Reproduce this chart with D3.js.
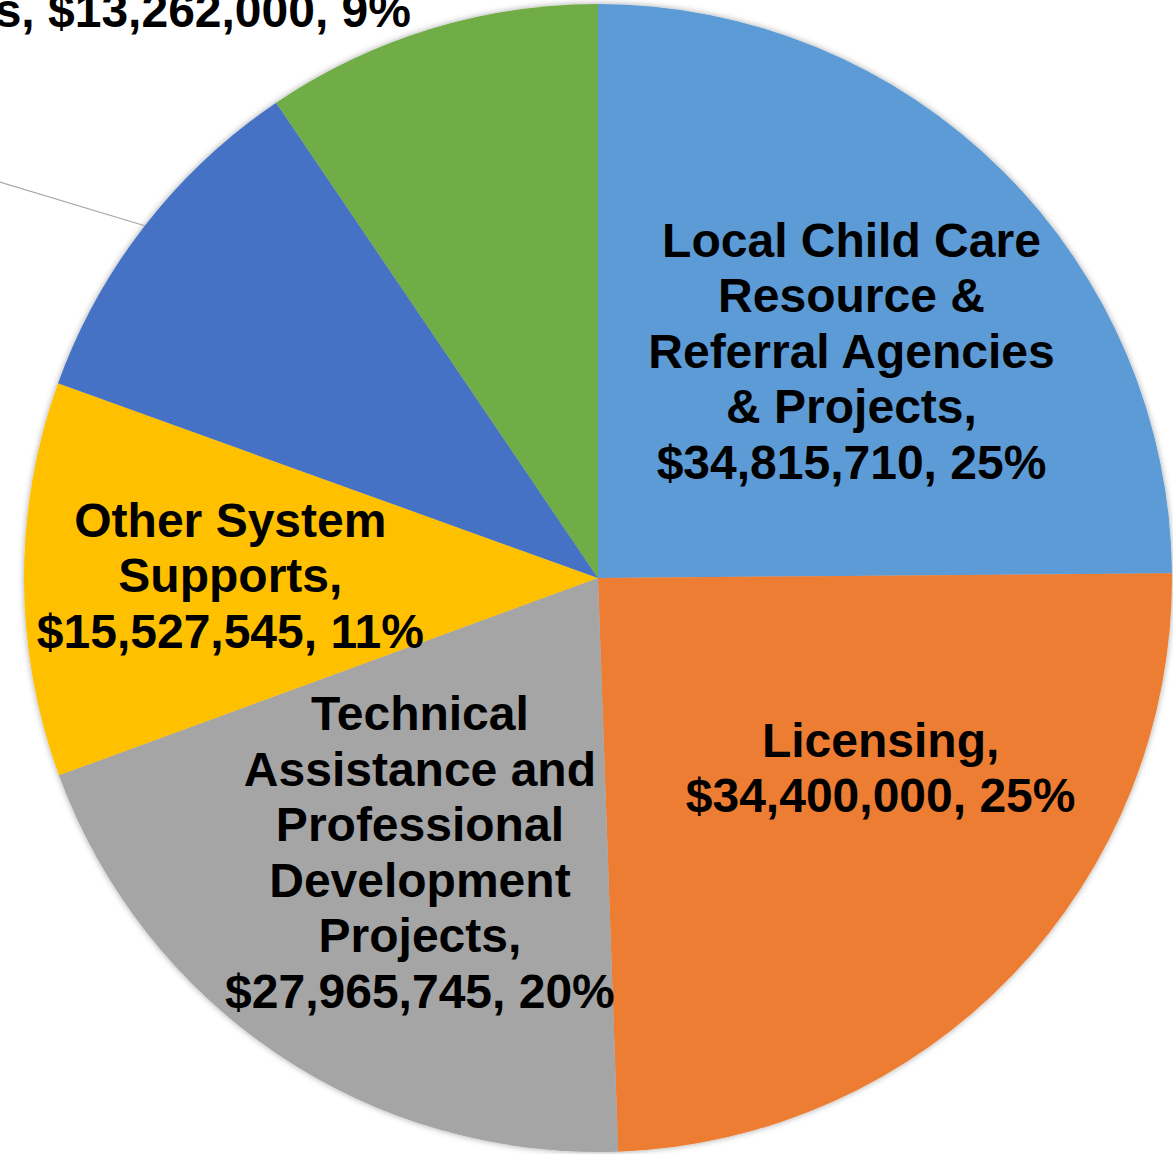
<!DOCTYPE html>
<html>
<head>
<meta charset="utf-8">
<script src="https://cdn.jsdelivr.net/npm/d3@7"></script>
<style>
  html, body { margin: 0; padding: 0; background: #fff; overflow: hidden; }
  text { font-family: "Liberation Sans", Arial, sans-serif; font-weight: bold; fill: #000; }
</style>
</head>
<body>
<svg id="chart" width="1173" height="1154"></svg>
<script>
// slices, clockwise from 12 o'clock
const categories = [
    'Local Child Care Resource & Referral Agencies & Projects',
    'Licensing',
    'Technical Assistance and Professional Development Projects',
    'Other System Supports',
    'Other Projects',
    'Quality Grants'
];
const amounts = [34815710, 34400000, 27965745, 15527545, 14029000, 13262000];
const percents = ['25%', '25%', '20%', '11%', '10%', '9%'];
const colors = ['#5b9bd5', '#ed7d31', '#a5a5a5', '#ffc000', '#4472c4', '#70ad47'];

// how each label is broken into lines (null = label sits outside the plot)
const labelLines = [
    ['Local Child Care', 'Resource &', 'Referral Agencies', '& Projects,', '$34,815,710, 25%'],
    ['Licensing,', '$34,400,000, 25%'],
    ['Technical', 'Assistance and', 'Professional', 'Development', 'Projects,', '$27,965,745, 20%'],
    ['Other System', 'Supports,', '$15,527,545, 11%'],
    null,
    null
];

const svg = d3.select('#chart');
const cx = 598, cy = 578, radius = 574;
const fontSize = 48, lineH = 55.5;

const defs = svg.append('defs');
defs.append('filter')
    .attr('id', 'soft')
    .attr('x', '-10%').attr('y', '-10%').attr('width', '120%').attr('height', '120%')
    .append('feDropShadow')
    .attr('dx', 0).attr('dy', 0)
    .attr('stdDeviation', 3)
    .attr('flood-color', '#000')
    .attr('flood-opacity', 0.35);

const data = categories.map((c, i) => ({name: c, amount: amounts[i], pct: percents[i], color: colors[i], lines: labelLines[i]}));

const pie = d3.pie().sort(null).value(d => d.amount);
const arcs = pie(data);
const arc = d3.arc().innerRadius(0).outerRadius(radius);

const g = svg.append('g').attr('transform', `translate(${cx},${cy})`);

g.append('g')
    .attr('filter', 'url(#soft)')
    .selectAll('path')
    .data(arcs)
    .enter()
    .append('path')
    .attr('d', arc)
    .attr('fill', d => d.data.color);

// inside labels, placed around a centroid at ~0.59 R, nudged a bit like Excel's best fit
const labelArc = d3.arc().innerRadius(radius * 0.59).outerRadius(radius * 0.59);
const nudges = [[15, 13], [38, -45], [11, -7], [-29, -4]];

const labels = g.selectAll('g.lbl')
    .data(arcs.filter(d => d.data.lines))
    .enter()
    .append('g')
    .attr('class', 'lbl')
    .attr('transform', (d, i) => {
        const c = labelArc.centroid(d);
        return `translate(${c[0] + nudges[i][0]},${c[1] + nudges[i][1]})`;
    });

labels.each(function(d) {
    const n = d.data.lines.length;
    d3.select(this).selectAll('text')
        .data(d.data.lines)
        .enter()
        .append('text')
        .attr('text-anchor', 'middle')
        .attr('font-size', fontSize)
        .attr('y', (t, j) => (j - (n - 1) / 2) * lineH + fontSize * 0.36)
        .text(t => t);
});

// green slice label sits above the pie, cut off by the frame as in the source
const green = arcs[5];
g.append('text')
    .attr('text-anchor', 'end')
    .attr('font-size', fontSize)
    .attr('x', 411 - cx)
    .attr('y', 27 - cy)
    .text(`${green.data.name}, $${d3.format(',')(green.data.amount)}, ${green.data.pct}`);

// dark blue slice: leader line running to a label outside the frame
const blue = arcs[4];
const mid = (blue.startAngle + blue.endAngle) / 2;
const p0 = [Math.sin(mid) * radius, -Math.cos(mid) * radius];
const p1 = [-cx - 20, 176 - cy];
g.append('line')
    .attr('x1', p0[0]).attr('y1', p0[1])
    .attr('x2', p1[0]).attr('y2', p1[1])
    .attr('stroke', '#a6a6a6')
    .attr('stroke-width', 1.2);
</script>
</body>
</html>
